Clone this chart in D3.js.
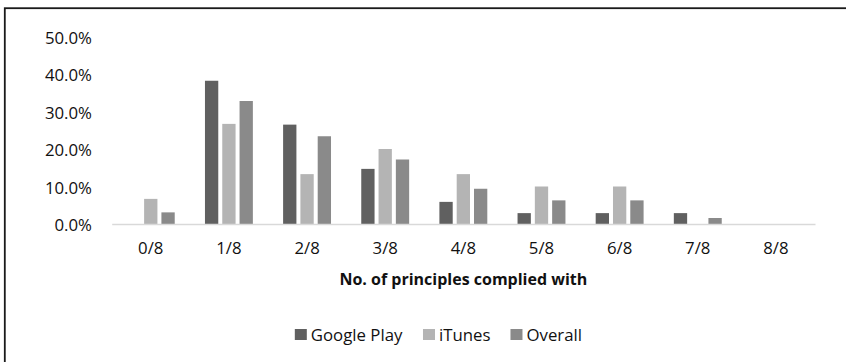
<!DOCTYPE html>
<html>
<head>
<meta charset="utf-8">
<script src="https://cdn.jsdelivr.net/npm/d3@7"></script>
<style>
  html, body { margin: 0; padding: 0; background: #fff; }
  svg { display: block; }
  text { font-family: "Open Sans", "Noto Sans", sans-serif; fill: #111; }
</style>
</head>
<body>
<svg id="chart" width="846" height="362"></svg>
<script>
// Share of apps by number of principles complied with (%)
const categories = ["0/8", "1/8", "2/8", "3/8", "4/8", "5/8", "6/8", "7/8", "8/8"];
const seriesNames = ["Google Play", "iTunes", "Overall"];
const googlePlay = [0, 38.2, 26.5, 14.7, 5.9, 2.9, 2.9, 2.9, 0];
const iTunes = [6.7, 26.7, 13.3, 20.0, 13.3, 10.0, 10.0, 0, 0];
const overall = [3.1, 32.8, 23.4, 17.2, 9.4, 6.3, 6.3, 1.6, 0];
const yTicks = [0, 10, 20, 30, 40, 50];
const seriesColors = ["#606060", "#b4b4b4", "#8a8a8a"];

const seriesValues = [googlePlay, iTunes, overall];

const svg = d3.select("#chart");

// outer chart frame
svg.append("rect")
  .attr("x", 4.8).attr("y", 8.2)
  .attr("width", 900).attr("height", 400)
  .attr("fill", "none")
  .attr("stroke", "#1a1a1a")
  .attr("stroke-width", 1.8);

const x = d3.scaleBand().domain(categories).range([111.7, 815]).padding(0);
const y = d3.scaleLinear().domain([0, 50]).range([224, 36.5]);

const groupWidth = 47.9;
const inner = d3.scaleBand().domain(seriesNames).range([0, groupWidth]).paddingInner(0.231).paddingOuter(0);
const groupOffset = (x.bandwidth() - groupWidth) / 2;

// y axis labels (no axis line, no gridlines)
const yAxis = d3.axisLeft(y).tickValues(yTicks).tickSize(0).tickPadding(0)
  .tickFormat(d => d.toFixed(1) + "%");
const yg = svg.append("g").attr("transform", "translate(92,0)").call(yAxis);
yg.select(".domain").remove();
yg.selectAll("text")
  .attr("dy", null).attr("y", 6.8)
  .style("font-size", "16.8px")
  .style("font-family", "'Open Sans', sans-serif")
  .attr("fill", "#111");

// bars
const rows = [];
categories.forEach((c, i) => {
  seriesNames.forEach((s, j) => {
    rows.push({ cat: c, series: s, value: seriesValues[j][i], color: seriesColors[j] });
  });
});

svg.append("g").selectAll("rect")
  .data(rows.filter(d => d.value > 0))
  .join("rect")
  .attr("x", d => x(d.cat) + groupOffset + inner(d.series))
  .attr("y", d => y(d.value))
  .attr("width", inner.bandwidth())
  .attr("height", d => y(0) - y(d.value))
  .attr("fill", d => d.color);

// x axis: light baseline and category labels
const xAxis = d3.axisBottom(x).tickSize(0).tickPadding(0);
const xg = svg.append("g").attr("transform", `translate(0,${y(0)})`).call(xAxis);
xg.select(".domain").attr("stroke", "#d9d9d9").attr("stroke-width", 1.3);
xg.selectAll("text")
  .attr("dy", null).attr("y", 30.3)
  .style("font-size", "16.8px")
  .style("font-family", "'Open Sans', sans-serif")
  .attr("fill", "#111");

// axis title
svg.append("text")
  .attr("x", (x.range()[0] + x.range()[1]) / 2)
  .attr("y", 284.5)
  .attr("text-anchor", "middle")
  .style("font-size", "16px")
  .style("font-weight", "bold")
  .text("No. of principles complied with");

// legend
const legend = svg.append("g");
const items = legend.selectAll("g").data(seriesNames).join("g");
items.append("rect")
  .attr("width", 12).attr("height", 11)
  .attr("y", -11)
  .attr("fill", (d, i) => seriesColors[i]);
items.append("text")
  .attr("x", 16)
  .attr("y", 0.5)
  .style("font-size", "16.8px")
  .text(d => d);
let cursor = 0;
items.each(function () {
  const w = this.getBBox().width;
  d3.select(this).attr("transform", `translate(${cursor},340)`);
  cursor += w + 20;
});
const legendWidth = cursor - 20;
legend.attr("transform", `translate(${438.4 - legendWidth / 2},0)`);
</script>
</body>
</html>
